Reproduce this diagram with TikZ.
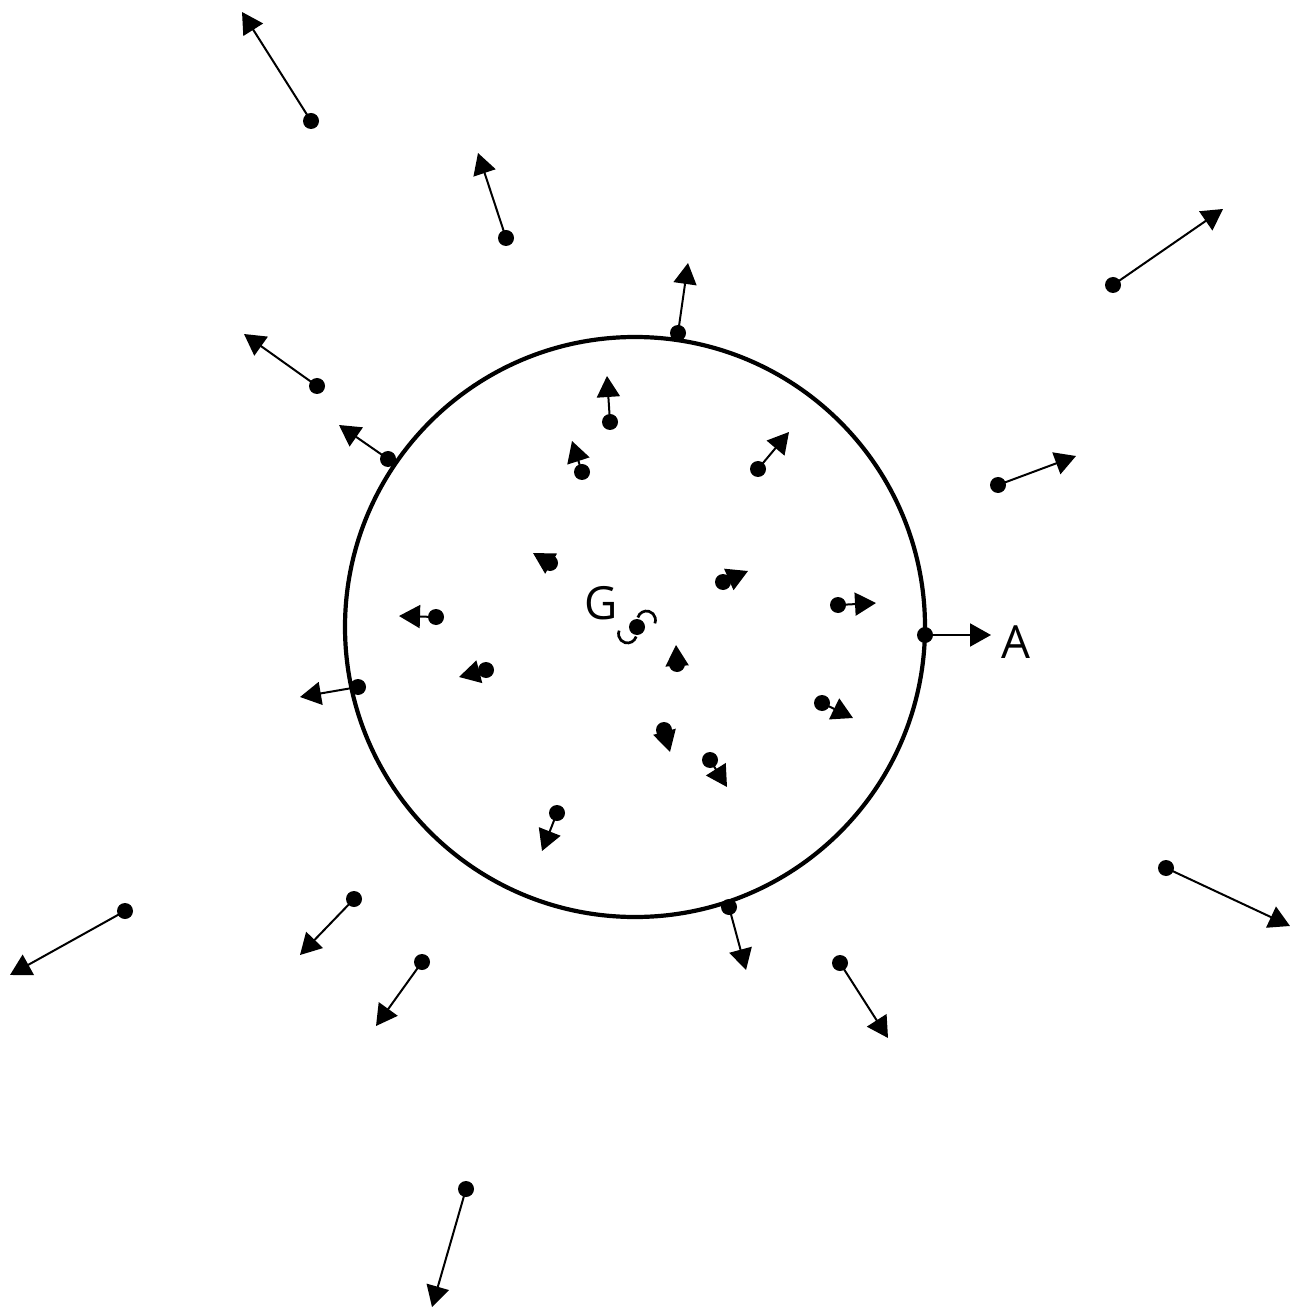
\documentclass[tikz,border=0pt]{standalone}
\usepackage{fontspec}
\setmainfont{Open Sans}
\usetikzlibrary{arrows.meta,calc}
\tikzset{
  vec/.style={line width=0.2mm,-{Triangle[length=2.1mm,width=2.3mm]}},
  body/.style={draw,circle,line width=0.42mm,minimum size=58mm,inner sep=0pt},
  lbl/.style={font=\fontsize{13}{15}\selectfont,inner sep=0pt},
  spin/.style={line width=0.27mm},
}

\begin{document}
\begin{tikzpicture}[x=0.1mm,y=-0.1mm]
  \useasboundingbox (0,0) rectangle (1295,1310);
  %% Body
  \node[body] (S) at (635,627) {};
  %% Particles: position x/y, velocity tip x/y
  \foreach \px/\py/\vx/\vy [count=\i] in {
      311/121/242/12,   506/238/478/153,
      678/333/688/263,  1113/285/1223/209,
      317/386/244/334,  388/459/339/425,
      610/422/607/376,  582/472/572/441,
      758/469/789/432,  998/485/1076/456,
      550/563/533/553,  723/582/748/571,
      838/605/876/603,  436/617/399/616,
      486/670/459/677,  358/687/300/697,
      677/664/676/645,  822/703/853/718,
      664/730/670/752,  710/760/727/787,
      557/813/542/851,  729/907/746/970,
      1166/868/1290/926, 125/911/10/975,
      354/899/300/955,  422/962/376/1026,
      840/963/888/1038, 466/1189/432/1307}
  {
    \coordinate (p\i) at (\px,\py);
    \coordinate (v\i) at (\vx,\vy);
    \draw[vec] (p\i) -- (v\i);
    \fill (p\i) circle[radius=0.8mm];
  }
  %% Point A on the boundary
  \coordinate (pA) at (925,635);
  \coordinate (vA) at (991,635);
  \draw[vec] (pA) -- (vA);
  \fill (pA) circle[radius=0.8mm];
  \node[lbl] (A) at (1016,642) {A};
  %% Centre of mass with spin
  \coordinate (cm) at (637,627);
  \fill (cm) circle[radius=0.8mm];
  \draw[spin] ($(cm)+(9.5,-7)$) ++(164:0.9mm) arc[start angle=164,end angle=-22,radius=0.9mm];
  \draw[spin] ($(cm)+(-9.5,7)$) ++(-16:0.9mm) arc[start angle=-16,end angle=-202,radius=0.9mm];
  \node[lbl] (G) at (601,603) {G};
\end{tikzpicture}
\end{document}
